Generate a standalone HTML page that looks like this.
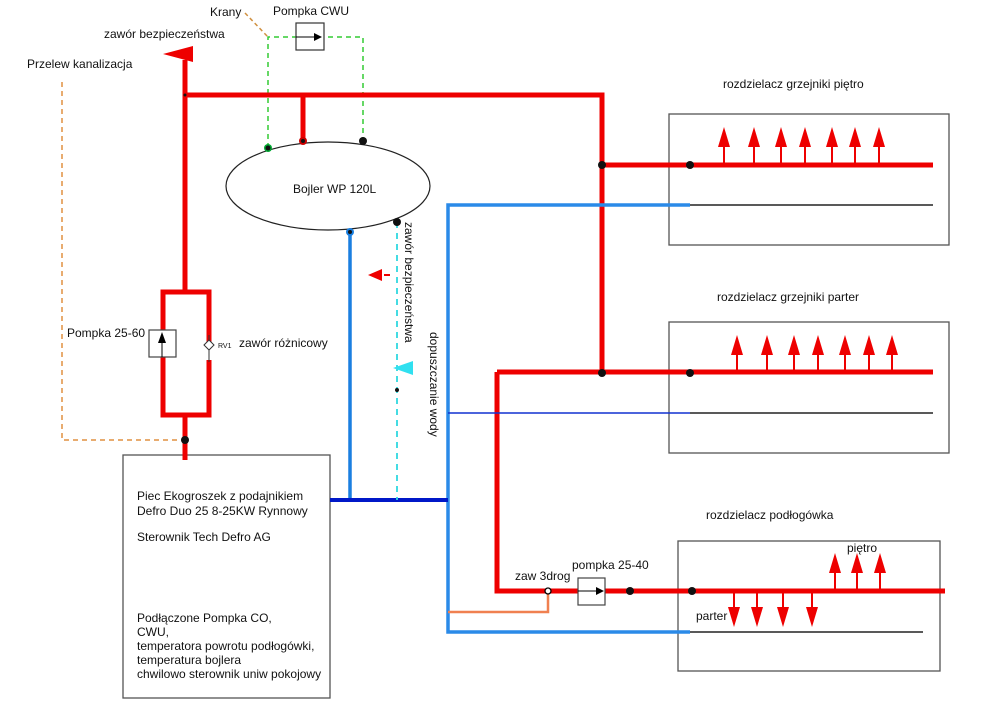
<!DOCTYPE html>
<html><head><meta charset="utf-8"><style>
html,body{margin:0;padding:0;background:#fff}
svg{display:block;font-family:"Liberation Sans",sans-serif}
</style></head><body>
<svg width="1000" height="706" viewBox="0 0 1000 706" xmlns="http://www.w3.org/2000/svg">
<defs>
<g id="au"><line x1="0" y1="0" x2="0" y2="-20" stroke="#e00" stroke-width="2"/><polygon points="-6,-18 6,-18 0,-38" fill="#e00"/></g>
<g id="ad"><line x1="0" y1="0" x2="0" y2="18" stroke="#e00" stroke-width="2"/><polygon points="-6,16 6,16 0,36" fill="#e00"/></g>
</defs>
<g fill="none" stroke="#555" stroke-width="1.3">
<rect x="669" y="114" width="280" height="131"/>
<rect x="669" y="322" width="280" height="131"/>
<rect x="678" y="541" width="262" height="130"/>
<rect x="123" y="455" width="207" height="243"/>
</g>
<polyline points="62,82 62,440 185,440" fill="none" stroke="#e09040" stroke-width="1.5" stroke-dasharray="5,4"/>
<line x1="245" y1="13" x2="268" y2="37" stroke="#d09040" stroke-width="1.5" stroke-dasharray="4,3"/>
<polyline points="268,148 268,37 363,37 363,141" fill="none" stroke="#3c3" stroke-width="1.5" stroke-dasharray="5,4"/>
<rect x="296" y="23" width="28" height="27" fill="#fff" stroke="#333" stroke-width="1.2"/>
<line x1="296" y1="37" x2="315" y2="37" stroke="#000" stroke-width="1"/><polygon points="314,33 322,37 314,41" fill="#000"/>
<g stroke="#e00" stroke-width="5" fill="none">
<polyline points="185,60 185,95 602,95 602,375"/>
<line x1="303" y1="95" x2="303" y2="141"/>
<line x1="185" y1="95" x2="185" y2="292"/>
<polyline points="163,340 163,292 209,292 209,345"/>
<polyline points="209,360 209,415 163,415 163,350"/>
<line x1="185" y1="415" x2="185" y2="460"/>
<line x1="602" y1="165" x2="933" y2="165"/>
<polyline points="497,372 933,372"/>
<polyline points="497,372 497,591 945,591"/>
</g>
<polygon points="163,54 193,46 193,62" fill="#e00"/>
<rect x="149" y="330" width="27" height="27" fill="#fff" stroke="#444" stroke-width="1.2"/>
<line x1="162" y1="357" x2="162" y2="343" stroke="#000"/><polygon points="158,343 162,332 166,343" fill="#000"/>
<line x1="209" y1="335" x2="209" y2="362" stroke="#333" stroke-width="1"/>
<polygon points="204,345 209,340 214,345 209,350" fill="#fff" stroke="#333"/>
<ellipse cx="328" cy="186" rx="102" ry="44" fill="#fff" stroke="#222" stroke-width="1.2"/>
<g fill="none" stroke-width="3.5">
<polyline points="350,230 350,500" stroke="#1a7fe0"/>
<polyline points="690,205 448,205 448,632 690,632" stroke="#2a8ae8"/>
<line x1="330" y1="500" x2="448" y2="500" stroke="#0018c8" stroke-width="4"/>
</g>
<line x1="448" y1="413" x2="690" y2="413" stroke="#1030d0" stroke-width="1.5"/>
<polyline points="448,612 548,612 548,593" fill="none" stroke="#f08050" stroke-width="2.5"/>
<g stroke="#222" stroke-width="1.5">
<line x1="690" y1="205" x2="933" y2="205"/>
<line x1="690" y1="413" x2="933" y2="413"/>
<line x1="690" y1="632" x2="923" y2="632"/>
</g>
<line x1="397" y1="222" x2="397" y2="500" stroke="#30d8e0" stroke-width="1.8" stroke-dasharray="6,5"/>
<polygon points="368,275 382,269 382,281" fill="#e00"/><line x1="384" y1="275" x2="390" y2="275" stroke="#e00" stroke-width="2"/>
<polygon points="393,368 413,361 413,375" fill="#30e0f0"/>
<use href="#au" x="724" y="165"/><use href="#au" x="754" y="165"/><use href="#au" x="781" y="165"/><use href="#au" x="805" y="165"/><use href="#au" x="832" y="165"/><use href="#au" x="855" y="165"/><use href="#au" x="879" y="165"/>
<use href="#au" x="737" y="373"/><use href="#au" x="767" y="373"/><use href="#au" x="794" y="373"/><use href="#au" x="818" y="373"/><use href="#au" x="845" y="373"/><use href="#au" x="869" y="373"/><use href="#au" x="892" y="373"/>
<use href="#au" x="835" y="591"/><use href="#au" x="857" y="591"/><use href="#au" x="880" y="591"/>
<use href="#ad" x="734" y="591"/><use href="#ad" x="757" y="591"/><use href="#ad" x="783" y="591"/><use href="#ad" x="812" y="591"/>
<rect x="578" y="578" width="27" height="27" fill="#fff" stroke="#444" stroke-width="1.2"/>
<line x1="578" y1="591" x2="597" y2="591" stroke="#000"/><polygon points="596,587 604,591 596,595" fill="#000"/>
<g fill="#111">
<circle cx="185" cy="440" r="4"/><circle cx="185" cy="95" r="1.5"/>
<circle cx="602" cy="165" r="4"/><circle cx="690" cy="165" r="4"/>
<circle cx="602" cy="373" r="4"/><circle cx="690" cy="373" r="4"/>
<circle cx="630" cy="591" r="4"/><circle cx="692" cy="591" r="4"/>
<circle cx="397" cy="390" r="2"/>
<circle cx="268" cy="148" r="4" fill="#0a3"/><circle cx="268" cy="148" r="2.5"/>
<circle cx="303" cy="141" r="4" fill="#c00"/><circle cx="303" cy="141" r="2"/>
<circle cx="363" cy="141" r="4"/>
<circle cx="350" cy="232" r="4" fill="#1a7fe0"/><circle cx="350" cy="232" r="2"/>
<circle cx="397" cy="222" r="4"/>
</g>
<circle cx="548" cy="591" r="3" fill="#fff" stroke="#000" stroke-width="1.3"/>
<g font-size="12" fill="#111">
<text x="210" y="16">Krany</text>
<text x="273" y="15">Pompka CWU</text>
<text x="104" y="38">zawór bezpieczeństwa</text>
<text x="27" y="68">Przelew kanalizacja</text>
<text x="293" y="193">Bojler WP 120L</text>
<text x="67" y="337">Pompka 25-60</text>
<text x="218" y="348" font-size="7">RV1</text>
<text x="239" y="347">zawór różnicowy</text>
<text x="723" y="88">rozdzielacz grzejniki piętro</text>
<text x="717" y="301">rozdzielacz grzejniki  parter</text>
<text x="706" y="519">rozdzielacz podłogówka</text>
<text x="847" y="552">piętro</text>
<text x="696" y="620">parter</text>
<text x="515" y="580">zaw 3drog</text>
<text x="572" y="569">pompka 25-40</text>
<text x="137" y="500">Piec Ekogroszek z podajnikiem</text>
<text x="137" y="515">Defro Duo 25 8-25KW Rynnowy</text>
<text x="137" y="541">Sterownik Tech Defro AG</text>
<text x="137" y="622">Podłączone Pompka CO,</text>
<text x="137" y="636">CWU,</text>
<text x="137" y="650">temperatora powrotu podłogówki,</text>
<text x="137" y="664">temperatura bojlera</text>
<text x="137" y="678">chwilowo sterownik uniw pokojowy</text>
<text transform="translate(405,222) rotate(90)">zawór bezpieczeństwa</text>
<text transform="translate(430,332) rotate(90)">dopuszczanie wody</text>
</g>
</svg>
</body></html>
